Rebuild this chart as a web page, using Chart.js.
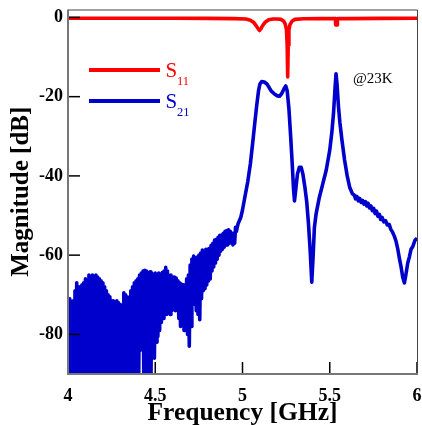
<!DOCTYPE html>
<html><head><meta charset="utf-8">
<script src="https://cdn.jsdelivr.net/npm/chart.js@4"></script>
<style>html,body{margin:0;padding:0;background:#fff;overflow:hidden}</style>
</head><body>
<canvas id="c" width="422" height="425"></canvas>
<script>
const xTicks = [4, 4.5, 5, 5.5, 6];
const yTicks = [0, -20, -40, -60, -80];
const seriesNames = ['S11', 'S21'];
const tempLabel = '@23K';

const s11Freq = [4.0,4.3,4.6,4.8,4.95,5.02,5.045,5.065,5.08,5.09,5.097,5.105,5.115,5.13,5.15,5.175,5.2,5.22,5.235,5.245,5.252,5.256,5.259,5.262,5.266,5.273,5.285,5.3,5.35,5.45,5.532,5.534,5.542,5.544,5.6,5.8,6.0];
const s11Db   = [-0.2,-0.2,-0.2,-0.25,-0.3,-0.4,-0.7,-1.3,-2.2,-2.9,-3.3,-2.9,-2.1,-1.2,-0.6,-0.4,-0.4,-0.5,-0.9,-1.7,-3.1,-7,-15,-7,-3.1,-1.7,-0.9,-0.5,-0.35,-0.3,-0.3,-1.9,-1.9,-0.3,-0.3,-0.25,-0.2];

const s21Freq = [
4.000,4.005,4.010,4.015,4.020,4.025,4.030,4.035,4.040,4.045,
4.050,4.055,4.060,4.065,4.070,4.075,4.080,4.085,4.090,4.095,
4.100,4.105,4.110,4.115,4.120,4.125,4.130,4.135,4.140,4.145,
4.150,4.155,4.160,4.165,4.170,4.175,4.180,4.185,4.190,4.195,
4.200,4.205,4.210,4.215,4.220,4.225,4.230,4.235,4.240,4.245,
4.250,4.255,4.260,4.265,4.270,4.275,4.280,4.285,4.290,4.295,
4.300,4.305,4.310,4.315,4.320,4.325,4.330,4.335,4.340,4.345,
4.350,4.355,4.360,4.365,4.370,4.375,4.380,4.385,4.390,4.395,
4.400,4.405,4.410,4.415,4.420,4.425,4.430,4.435,4.440,4.445,
4.450,4.455,4.460,4.465,4.470,4.475,4.480,4.485,4.490,4.495,
4.500,4.505,4.510,4.515,4.520,4.525,4.530,4.535,4.540,4.545,
4.550,4.555,4.560,4.565,4.570,4.575,4.580,4.585,4.590,4.595,
4.600,4.605,4.610,4.615,4.620,4.625,4.630,4.635,4.640,4.645,
4.650,4.655,4.660,4.665,4.670,4.675,4.680,4.685,4.690,4.695,
4.700,4.705,4.710,4.715,4.720,4.725,4.730,4.735,4.740,4.745,
4.750,4.755,4.760,4.765,4.770,4.775,4.780,4.785,4.790,4.795,
4.800,4.805,4.810,4.815,4.820,4.825,4.830,4.835,4.840,4.845,
4.850,4.855,4.860,4.865,4.870,4.875,4.880,4.885,4.890,4.895,
4.900,4.905,4.910,4.915,4.920,4.925,4.930,4.935,4.940,4.945,
4.950,4.955,4.960,4.965,4.975,4.990,
5.000,5.015,5.030,5.045,5.060,5.072,5.082,5.092,5.100,5.110,5.125,5.140,5.150,5.165,5.185,5.200,5.212,5.225,5.238,5.248,
5.256,5.266,5.276,5.285,5.292,5.298,5.305,5.315,5.326,5.336,5.346,5.358,5.368,5.378,5.388,5.397,5.405,5.412,5.422,5.440,
5.460,5.480,5.500,5.512,5.522,5.530,5.536,5.542,5.550,5.558,5.570,5.585,5.600,5.615,5.630,
5.640,5.648,5.656,5.664,5.672,5.680,5.688,5.696,5.704,5.712,5.720,5.728,5.736,5.744,5.752,5.760,5.768,5.776,5.784,5.792,
5.800,5.810,5.820,5.830,5.841,5.850,5.860,5.870,5.880,5.890,5.900,5.909,5.918,5.928,5.936,5.947,5.956,5.966,5.976,5.988,6.000];
const s21Db = [
-71.5,-96,-71,-88,-72,-97,-71.5,-85,-69,-94,
-67,-99,-68,-84,-68,-95,-67.5,-92,-67,-86,
-66,-97,-66.5,-93,-65,-88,-65.5,-98,-65,-84,
-66,-95,-65,-99,-65.5,-87,-66,-96,-66.5,-92,
-67,-85,-68,-98,-69,-94,-70,-97,-70.5,-93,
-71.5,-99,-71.5,-95,-72,-92,-71.5,-98,-72,-94,
-72.5,-97,-73.5,-92,-69.5,-96,-70,-93,-70.5,-98,
-71,-95,-69,-92,-68,-97,-67,-85,-66.5,-96,
-66,-92,-65,-84,-64.5,-79,-64,-95,-63.8,-85,
-64,-97,-64.5,-92,-64.2,-96,-64.5,-83,-65,-86,
-64.5,-82,-65,-80.5,-64.5,-79,-65,-77,-64.4,-76,
-64,-74.5,-63.1,-75,-64,-74.5,-65.2,-75,-65,-74,
-65.5,-73.5,-65.5,-74,-65.8,-73,-66.5,-76,-67,-78,
-67.3,-77,-67.5,-79,-67.5,-78.5,-66,-80,-65,-83,
-62.5,-78,-61,-72.5,-60.2,-72,-61,-74,-60.5,-75,
-60,-76.3,-59.5,-71,-58.7,-69,-59,-68.5,-58.5,-67.5,
-58.5,-66.5,-58.3,-66,-57.5,-64,-57,-63,-56.2,-62,
-56,-61,-55.5,-60,-55,-59,-54.9,-58.5,-54.5,-58,
-54,-57.5,-53.8,-57.4,-53.6,-57,-54,-56.5,-54.5,-57.4,
-55,-57,-53,-54,-52,-50.5,
-48.6,-45,-41.5,-37,-31,-26,-22,-18.5,-16.8,-16.2,-16.3,-16.8,-17.5,-18.6,-19.4,-19.8,-19.9,-19.2,-18,-17.3,
-18.5,-23,-30,-37,-43,-46.3,-43.5,-39.5,-37.8,-37.8,-39.5,-43,-46.5,-52,-59,-66.8,-60,-53,-49.5,-45.5,
-42,-38.5,-33.5,-29,-24,-18,-14.2,-17,-22.5,-26.5,-31,-36,-40,-43,-44.5,
-44.8,-45.8,-45.2,-46.3,-45.7,-46.7,-46.2,-47.1,-46.5,-47.6,-46.9,-48.1,-47.6,-48.8,-48.2,-49.5,-48.9,-50.2,-49.7,-51,
-50.5,-51.6,-51.3,-52.4,-52.3,-53.5,-54.2,-55.2,-56.5,-58.5,-61,-63,-65.5,-67,-65,-62,-60.5,-58.5,-57.8,-56.3,-55.7];

const toXY = (fs, ds) => fs.map((f, i) => ({x: f, y: ds[i]}));
const RED = '#ff0000', BLUE = '#0000cd';
const SERIF = '"Liberation Serif", "Times New Roman", serif';
Chart.defaults.font.family = SERIF;

const decor = {
  id: 'decor',
  afterDatasetsDraw(chart) {
    const {ctx, chartArea: a, scales: {x, y}} = chart;
    ctx.save();
    ctx.strokeStyle = '#000'; ctx.lineWidth = 1.5;
    yTicks.forEach(v => { const p = y.getPixelForValue(v); ctx.beginPath(); ctx.moveTo(a.left, p); ctx.lineTo(a.left + 12, p); ctx.stroke(); });
    xTicks.forEach(v => { const p = x.getPixelForValue(v); ctx.beginPath(); ctx.moveTo(p, a.bottom); ctx.lineTo(p, a.bottom - 12); ctx.stroke(); });
    ctx.strokeStyle = '#444'; ctx.lineWidth = 1;
    ctx.beginPath(); ctx.moveTo(a.left, a.top + 0.5); ctx.lineTo(a.right + 0.5, a.top + 0.5); ctx.lineTo(a.right + 0.5, a.bottom); ctx.stroke();
    ctx.strokeStyle = '#777'; ctx.lineWidth = 2;
    ctx.beginPath(); ctx.moveTo(a.left, a.top); ctx.lineTo(a.left, a.bottom); ctx.lineTo(a.right + 1, a.bottom); ctx.stroke();
    const items = [[seriesNames[0], RED, 70, 76.7], [seriesNames[1], BLUE, 101, 107.7]];
    items.forEach(([name, col, ly, by]) => {
      ctx.strokeStyle = col; ctx.lineWidth = 4;
      ctx.beginPath(); ctx.moveTo(89, ly); ctx.lineTo(160, ly); ctx.stroke();
      ctx.fillStyle = col; ctx.textBaseline = 'alphabetic'; ctx.textAlign = 'left';
      ctx.font = '21px ' + SERIF; ctx.fillText(name[0], 165.5, by);
      ctx.font = '12.5px ' + SERIF; ctx.fillText(name.slice(1), 177, by + 8);
    });
    ctx.fillStyle = '#000'; ctx.font = '15px ' + SERIF;
    ctx.fillText(tempLabel, 353, 83);
    ctx.restore();
  }
};

new Chart(document.getElementById('c'), {
  type: 'line',
  data: {
    datasets: [
      {label: seriesNames[0], data: toXY(s11Freq, s11Db), borderColor: RED, borderWidth: 3.6, pointRadius: 0, tension: 0, clip: 0, borderJoinStyle: 'round'},
      {label: seriesNames[1], data: toXY(s21Freq, s21Db), borderColor: BLUE, borderWidth: 3.6, pointRadius: 0, tension: 0, clip: 0, borderJoinStyle: 'round'}
    ]
  },
  options: {
    responsive: false, animation: false, devicePixelRatio: 1,
    layout: {padding: {top: 9.5, right: 5, left: 0, bottom: 0}},
    plugins: {legend: {display: false}, tooltip: {enabled: false}},
    scales: {
      x: {
        type: 'linear', min: 4, max: 6,
        afterBuildTicks: s => { s.ticks = xTicks.map(v => ({value: v})); },
        afterFit: s => { s.height = 51; s.paddingLeft = 0; s.paddingRight = 0; },
        grid: {display: false, drawTicks: false}, border: {display: false},
        ticks: {color: '#000', font: {size: 18, weight: 'bold'}, padding: 12, maxRotation: 0, autoSkip: false, callback: v => String(v)},
        title: {display: true, text: 'Frequency [GHz]', color: '#000', font: {size: 25.5, weight: 'bold', lineHeight: 1.0}, padding: {top: 0, bottom: -1}}
      },
      y: {
        min: -90, max: 2,
        afterBuildTicks: s => { s.ticks = yTicks.map(v => ({value: v})); },
        afterFit: s => { s.width = 68; s.paddingTop = 0; s.paddingBottom = 0; },
        grid: {display: false, drawTicks: false}, border: {display: false},
        ticks: {color: '#000', font: {size: 18, weight: 'bold'}, padding: 5, crossAlign: 'near', autoSkip: false, callback: v => String(v)},
        title: {display: true, text: 'Magnitude [dB]', color: '#000', font: {size: 25, weight: 'bold'}, padding: {top: 7, bottom: 0}}
      }
    }
  },
  plugins: [decor]
});
</script>
</body></html>
